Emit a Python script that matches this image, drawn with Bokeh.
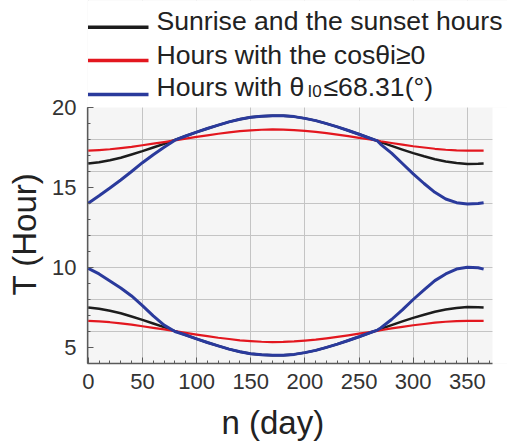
from bokeh.plotting import figure
from bokeh.models import Range1d, FixedTicker, SingleIntervalTicker, Title, LinearAxis
from bokeh.core.properties import value
from bokeh.embed import file_html
from bokeh.resources import INLINE

# ---- data ----
days = [0, 10, 20, 30, 40, 50, 60, 70, 80, 90, 100, 110, 120, 130, 140, 150, 160, 170, 180,
        190, 200, 210, 220, 230, 240, 250, 260, 267, 270, 280, 290, 300, 310, 320, 330, 340,
        350, 360, 365]

sunset_black = [16.50, 16.58, 16.70, 16.86, 17.06, 17.27, 17.50, 17.73, 17.98, 18.22, 18.46,
                18.69, 18.90, 19.10, 19.27, 19.39, 19.46, 19.49, 19.48, 19.43, 19.32, 19.18,
                18.99, 18.79, 18.56, 18.33, 18.08, 17.91, 17.84, 17.60, 17.37, 17.15, 16.95,
                16.77, 16.63, 16.53, 16.47, 16.48, 16.50]
sunrise_black = [7.50, 7.42, 7.30, 7.14, 6.94, 6.73, 6.50, 6.27, 6.02, 5.78, 5.54, 5.31, 5.10,
                 4.90, 4.73, 4.61, 4.54, 4.51, 4.52, 4.57, 4.68, 4.82, 5.01, 5.21, 5.44, 5.67,
                 5.92, 6.09, 6.16, 6.40, 6.63, 6.85, 7.05, 7.23, 7.37, 7.47, 7.53, 7.52, 7.50]

end_red = [17.30, 17.34, 17.39, 17.46, 17.54, 17.64, 17.74, 17.84, 17.95, 18.06, 18.16, 18.26,
           18.36, 18.44, 18.52, 18.57, 18.61, 18.63, 18.62, 18.59, 18.54, 18.48, 18.40, 18.31,
           18.21, 18.10, 18.00, 17.93, 17.89, 17.78, 17.68, 17.58, 17.50, 17.42, 17.36, 17.32,
           17.30, 17.30, 17.30]
start_red = [6.67, 6.63, 6.58, 6.51, 6.43, 6.33, 6.23, 6.13, 6.02, 5.91, 5.81, 5.71, 5.61,
             5.53, 5.45, 5.40, 5.36, 5.34, 5.35, 5.38, 5.43, 5.49, 5.57, 5.66, 5.76, 5.87,
             5.97, 6.04, 6.08, 6.19, 6.29, 6.39, 6.47, 6.55, 6.61, 6.65, 6.67, 6.67, 6.67]

end_blue = [14.02, 14.48, 14.97, 15.47, 16.00, 16.55, 17.05, 17.52, 17.96, 18.22, 18.46, 18.69,
            18.90, 19.10, 19.27, 19.39, 19.46, 19.49, 19.48, 19.43, 19.32, 19.18, 18.99, 18.79,
            18.56, 18.33, 18.08, 17.91, 17.70, 17.15, 16.50, 15.85, 15.25, 14.70, 14.28, 14.05,
            13.97, 14.00, 14.05]
start_blue = [9.95, 9.60, 9.15, 8.72, 8.22, 7.62, 6.98, 6.40, 6.00, 5.78, 5.54, 5.31, 5.10,
              4.90, 4.73, 4.61, 4.54, 4.51, 4.52, 4.57, 4.68, 4.82, 5.01, 5.21, 5.44, 5.67,
              5.92, 6.09, 6.22, 6.75, 7.35, 8.00, 8.60, 9.18, 9.60, 9.90, 10.02, 9.98, 9.90]

legend_labels = ["Sunrise and the sunset hours", "Hours with the cos\u03b8i\u22650",
                 "Hours with \u03b8", "I0", "\u226468.31(\u00b0)"]
x_title = "n (day)"
y_title = "T (Hour)"

BLACK = "#1c1c1c"
RED = "#e3171f"
BLUE = "#2a3a9c"
FONT = "Liberation Sans"

# ---- layout: the frame spans the canvas above and right of the axes ----
X0, X1 = -0.7, 373.2          # visible data span of the plot box
PX_PER_DAY = 405 / (X1 - X0)  # plot box is 405 px wide (x = 87 .. 492)
def dx(px):
    return X0 + (px - 87) / PX_PER_DAY
def dy(py):
    return 20 - (py - 107) / 16.0

p = figure(width=507, height=443, output_backend="svg", toolbar_location=None,
           x_range=Range1d(X0, dx(507)), y_range=Range1d(4, dy(0)))
p.min_border_left = 87
p.min_border_right = 0
p.min_border_top = 0
p.min_border_bottom = 80
p.background_fill_color = "#f5f5f5"
p.border_fill_color = "white"
p.outline_line_color = None

p.xaxis.ticker = SingleIntervalTicker(interval=50, num_minor_ticks=5)
p.yaxis.ticker = SingleIntervalTicker(interval=5, num_minor_ticks=5)
p.xaxis.bounds = (X0, X1)
p.yaxis.bounds = (4, 20)
p.ygrid.ticker = FixedTicker(ticks=[6, 8, 10, 12, 14, 16, 18])
p.grid.grid_line_color = "#c4c4c4"
p.grid.grid_line_width = 1

for ax in (p.xaxis, p.yaxis):
    ax.axis_line_color = "#5a5a5a"
    ax.axis_line_width = 1.3
    ax.major_tick_in = 6
    ax.major_tick_out = 0
    ax.minor_tick_in = 3
    ax.minor_tick_out = 0
    ax.major_tick_line_color = "#5a5a5a"
    ax.minor_tick_line_color = "#5a5a5a"
    ax.major_label_text_font = FONT
    ax.major_label_text_font_size = "22px"
    ax.major_label_text_color = "#333333"
p.xaxis.major_label_standoff = 10
p.yaxis.major_label_standoff = 11

# blank spacer axis below the x axis (one white tick, no label), then the x title
spacer = LinearAxis(ticker=FixedTicker(ticks=[75], minor_ticks=[]), axis_line_color=None,
                    major_tick_out=12, major_tick_in=0, minor_tick_out=0, minor_tick_in=0,
                    major_tick_line_color="white", minor_tick_line_color=None,
                    major_label_standoff=0, major_label_overrides={75: ""})
p.add_layout(spacer, "below")
p.add_layout(Title(text=x_title, align="left", offset=134, vertical_align="top",
                   standoff=0, text_font=FONT, text_font_size="33px",
                   text_font_style="normal", text_color="#222222"), "below")
p.add_layout(Title(text=y_title, align="left", offset=68, vertical_align="top",
                   standoff=10, text_font=FONT, text_font_size="33px",
                   text_font_style="normal", text_color="#222222"), "left")

# white masks: area above the plot box (legend area) and right of it
p.quad(left=[X0, X1], right=[dx(507), dx(507)], bottom=[20, 4], top=[dy(0), 20],
       fill_color="white", line_color=None)

for ys, col, w in [(sunset_black, BLACK, 2.5), (sunrise_black, BLACK, 2.5),
                   (end_red, RED, 2.2), (start_red, RED, 2.2),
                   (end_blue, BLUE, 3), (start_blue, BLUE, 3)]:
    p.line(days, ys, line_color=col, line_width=w, line_join="round")

# legend
for py, col in zip([26.7, 60.0, 94.0], [BLACK, RED, BLUE]):
    p.segment(x0=[dx(87.5)], y0=[dy(py)], x1=[dx(148)], y1=[dy(py)],
              line_color=col, line_width=3.5)

def txt(s, px, py_mid, size):
    p.text(x=[dx(px)], y=[dy(py_mid)], text=[s], text_font=value(FONT),
           text_font_size=size, text_color="#222222", text_baseline="middle",
           text_align="left")

txt(legend_labels[0], 156, 20.8, "26.6px")
txt(legend_labels[1], 156, 54.0, "26.6px")
txt(legend_labels[2], 156, 86.7, "26.6px")
txt(legend_labels[3], 307, 90.5, "17px")
txt(legend_labels[4], 323, 86.7, "26.6px")

open("out.html", "w").write(file_html(p, INLINE))
